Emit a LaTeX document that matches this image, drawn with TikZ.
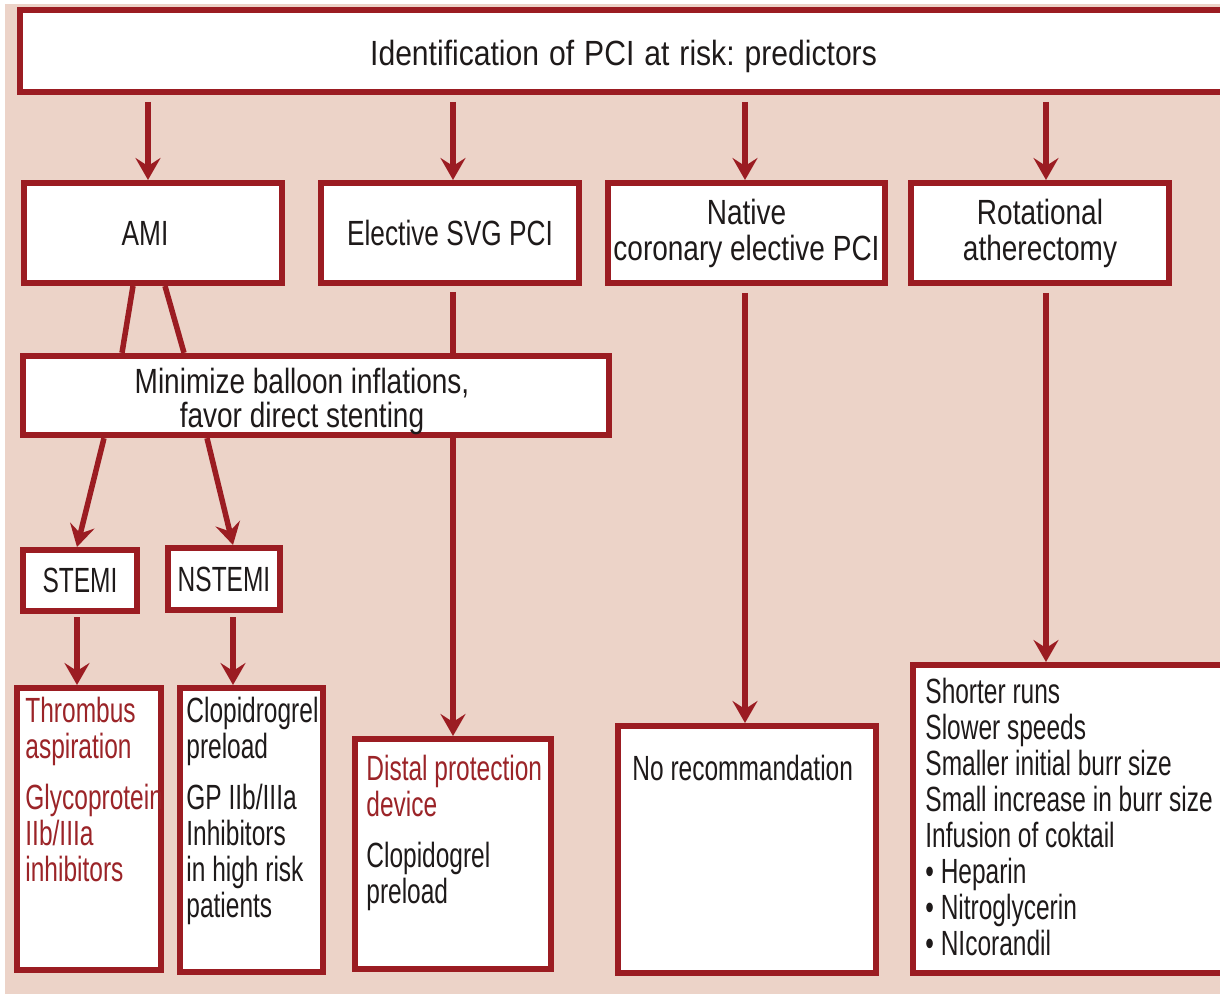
\documentclass[tikz,border=0pt]{standalone}
\usepackage{fontspec}
\setmainfont{Liberation Sans}[FakeStretch=0.70]
\newfontfamily\hdf{Liberation Sans}[FakeStretch=0.80]
\newfontfamily\hdn{Liberation Sans}[FakeStretch=0.75]
\newfontfamily\tif{Liberation Sans}[FakeStretch=0.86]
\usetikzlibrary{arrows.meta,calc}
\definecolor{dr}{HTML}{9B1C22}
\definecolor{bg}{HTML}{ECD3C8}
\definecolor{rt}{HTML}{9B2428}
\definecolor{tx}{HTML}{1E1A1A}
\newcommand\fs{\fontsize{17.5}{18}\selectfont}
\newcommand\ws{\hspace{5pt}}
\begin{document}
\begin{tikzpicture}[x=0.5pt,y=-0.5pt,
 box/.style={draw=dr,line width=3pt,fill=white,inner sep=0pt,text=tx,font=\hdf\fs,align=center},
 arr/.style={draw=dr,line width=2.75pt,-{Stealth[length=11pt,width=12.5pt,inset=4pt]}},
 ln/.style={draw=dr,line width=2.75pt},
 txt/.style={anchor=north west,inner sep=0pt,align=left,font=\fs,text=tx}]
\useasboundingbox (0,0) rectangle (1220,994);
\fill[white] (0,0) rectangle (1220,994);
\fill[bg] (5,4) rectangle (1220,994);
\begin{scope}
\clip (0,0) rectangle (1220,994);
% boxes
\node[box,font=\tif\fs,minimum width=603.5pt,minimum height=41pt] (top) at (623.5,51) {\rule{0pt}{18pt}Identification\ws of\ws PCI\ws at\ws risk:\ws predictors};
\node[box,font=\hdn\fs,minimum width=129pt,minimum height=50pt] (ami) at (153,233) {AMI\hspace*{8pt}};
\node[box,font=\hdn\fs,minimum width=129pt,minimum height=50pt] (svg) at (450,233) {Elective SVG PCI};
\node[box,minimum width=138.5pt,minimum height=50pt] (nat) at (746.5,233) {Native\\coronary elective PCI};
\node[box,minimum width=129pt,minimum height=50pt] (rot) at (1040,233) {Rotational\\atherectomy};
\node[box,font=\fs,minimum width=57pt,minimum height=30.5pt] (stemi) at (80,580.5) {STEMI};
\node[box,font=\fs,minimum width=56pt,minimum height=31pt] (nstemi) at (224,579) {NSTEMI};
\node[box,minimum width=72pt,minimum height=141pt] (thr) at (89,829) {};
\node[box,minimum width=71.5pt,minimum height=142pt] (clo) at (251.5,830) {};
\node[box,minimum width=98pt,minimum height=115pt] (dis) at (453,854) {};
\node[box,minimum width=129pt,minimum height=123.5pt] (nor) at (747,849.5) {};
\node[box,minimum width=157pt,minimum height=154pt] (sho) at (1070,819) {};
% elective line passes behind the minimize box
\coordinate (s1) at ([xshift=1.5pt]svg.south);
\draw[arr,shorten <=3pt] (s1) -- (dis.north -| s1);
\node[box,minimum width=293pt,minimum height=39.5pt] (mini) at (316,395.5) {\rule{0pt}{19pt}Minimize balloon inflations,\hspace*{14pt}\\[-1pt]favor direct stenting\hspace*{14pt}};
% texts in lower boxes
\node[txt,text=rt] (thr-t) at (25,697) {Thrombus\\aspiration\\[7.5pt]Glycoprotein\\IIb/IIIa\\inhibitors};
\node[txt] (clo-t) at (186,697) {Clopidrogrel\\preload\\[7.5pt]GP IIb/IIIa\\Inhibitors\\in high risk\\patients};
\node[txt] (dis-t) at (366,755) {\textcolor{rt}{Distal protection}\\\textcolor{rt}{device}\\[7.5pt]Clopidogrel\\preload};
\node[txt] (nor-t) at (632,755) {No recommandation};
\node[txt] (sho-t) at (925,678) {Shorter runs\\Slower speeds\\Smaller initial burr size\\Small increase in burr size\\Infusion of coktail\\• Heparin\\• Nitroglycerin\\• NIcorandil};
% arrows from top
\coordinate (a1) at ([xshift=-2.5pt]ami.north);
\coordinate (a2) at ([xshift=1.5pt]svg.north);
\coordinate (a3) at ([xshift=-0.75pt]nat.north);
\coordinate (a4) at ([xshift=3pt]rot.north);
\foreach \c in {a1,a2,a3,a4}
  \draw[arr,shorten <=3.5pt] (top.south -| \c) -- (\c);
% AMI to minimize
\draw[ln] ([xshift=-10pt]ami.south) -- ([xshift=-97pt]mini.north);
\draw[ln] ([xshift=6pt]ami.south) -- ([xshift=-66pt]mini.north);
% minimize to STEMI / NSTEMI
\draw[arr] ([xshift=-106pt]mini.south) -- ([xshift=-1.5pt]stemi.north);
\draw[arr] ([xshift=-54.5pt]mini.south) -- ([xshift=4.5pt]nstemi.north);
% STEMI / NSTEMI down
\coordinate (b1) at ([xshift=-1.5pt]stemi.south);
\coordinate (b2) at ([xshift=4.5pt]nstemi.south);
\draw[arr,shorten <=1.5pt] (b1) -- (thr.north -| b1);
\draw[arr,shorten <=2pt] (b2) -- (clo.north -| b2);
% native and rotational down
\coordinate (c1) at ([xshift=-0.75pt]nat.south);
\coordinate (c2) at ([xshift=3pt]rot.south);
\draw[arr,shorten <=3.5pt] (c1) -- (nor.north -| c1);
\draw[arr,shorten <=3.5pt] (c2) -- (sho.north -| c2);
\end{scope}
\end{tikzpicture}
\end{document}
